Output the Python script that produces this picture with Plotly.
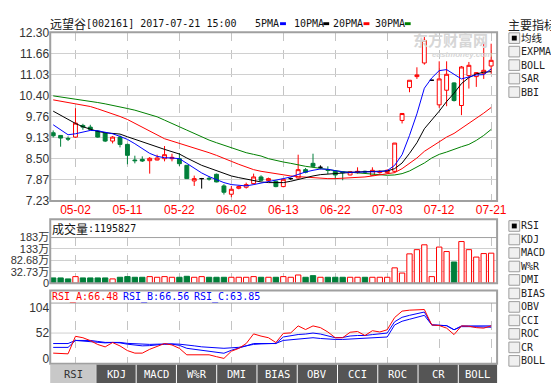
import plotly.graph_objects as go

# ---------------- data ----------------
dates = [
    "2017-04-26", "2017-04-27", "2017-04-28",
    "2017-05-02", "2017-05-03", "2017-05-04", "2017-05-05", "2017-05-08", "2017-05-09", "2017-05-10",
    "2017-05-11", "2017-05-12", "2017-05-15", "2017-05-16", "2017-05-17", "2017-05-18", "2017-05-19",
    "2017-05-22", "2017-05-23", "2017-05-24", "2017-05-25", "2017-05-26", "2017-05-31", "2017-06-01",
    "2017-06-02", "2017-06-05", "2017-06-06", "2017-06-07", "2017-06-08", "2017-06-09", "2017-06-12",
    "2017-06-13", "2017-06-14", "2017-06-15", "2017-06-16", "2017-06-19", "2017-06-20", "2017-06-21",
    "2017-06-22", "2017-06-23", "2017-06-26", "2017-06-27", "2017-06-28", "2017-06-29", "2017-06-30",
    "2017-07-03", "2017-07-04", "2017-07-05", "2017-07-06", "2017-07-07", "2017-07-10", "2017-07-11",
    "2017-07-12", "2017-07-13", "2017-07-14", "2017-07-17", "2017-07-18", "2017-07-19", "2017-07-20",
    "2017-07-21",
]
opens = [9.28, 9.20, 9.11, 9.15, 9.50, 9.45, 9.33, 9.27, 9.03, 9.15,
         8.93, 8.46, 8.48, 8.44, 8.46, 8.50, 8.50, 8.50, 8.30, 7.83,
         7.90, 7.91, 8.03, 7.68, 7.43, 7.61, 7.64, 7.75, 7.95, 7.84,
         7.82, 7.66, 7.90, 7.92, 8.17, 8.36, 8.24, 8.17, 8.12, 8.10,
         8.01, 8.08, 8.12, 8.00, 8.08, 8.08, 8.12, 9.65, 10.64, 10.97,
         11.38, 10.86, 10.12, 10.56, 10.78, 10.10, 11.00, 10.97, 11.07, 11.29]
highs = [9.35, 9.21, 9.17, 10.02, 9.55, 9.52, 9.36, 9.30, 9.18, 9.20,
         8.95, 8.59, 8.57, 8.55, 8.62, 8.88, 8.65, 8.67, 8.31, 7.99,
         7.92, 7.97, 8.05, 7.73, 7.68, 7.69, 7.78, 8.05, 8.00, 7.93,
         7.84, 7.90, 7.93, 8.62, 8.22, 8.65, 8.30, 8.27, 8.14, 8.12,
         8.13, 8.24, 8.14, 8.24, 8.15, 8.18, 8.97, 9.87, 10.86, 11.25,
         12.16, 10.86, 11.43, 11.43, 10.80, 11.29, 11.41, 11.10, 11.96, 11.96]
lows = [9.14, 8.86, 9.03, 9.13, 9.37, 9.35, 9.13, 9.00, 8.96, 8.84,
        8.33, 8.36, 8.40, 8.05, 8.45, 8.42, 8.42, 8.28, 7.89, 7.68,
        7.60, 7.84, 7.79, 7.42, 7.34, 7.58, 7.60, 7.72, 7.82, 7.80,
        7.64, 7.64, 7.86, 7.90, 8.06, 8.24, 8.18, 8.04, 7.88, 7.85,
        8.00, 8.05, 8.06, 7.98, 8.05, 8.05, 8.08, 9.56, 10.50, 10.90,
        11.33, 10.86, 10.03, 10.08, 10.22, 9.81, 10.61, 10.66, 10.90, 11.06]
closes = [9.19, 9.12, 9.09, 9.57, 9.45, 9.38, 9.15, 9.03, 9.15, 8.93,
          8.60, 8.44, 8.43, 8.51, 8.52, 8.62, 8.54, 8.35, 7.90, 7.90,
          7.90, 7.89, 7.80, 7.49, 7.58, 7.66, 7.72, 7.95, 7.85, 7.90,
          7.66, 7.88, 7.90, 8.17, 8.09, 8.27, 8.24, 8.15, 8.01, 8.08,
          8.11, 8.12, 8.10, 8.15, 8.12, 8.15, 8.97, 9.86, 10.86, 11.02,
          12.06, 10.86, 10.90, 11.04, 10.25, 11.26, 11.31, 11.09, 11.16, 11.46]
ma5 = [9.52, 9.38, 9.22, 9.25, 9.30, 9.35, 9.34, 9.30, 9.25, 9.17,
       9.08, 8.95, 8.80, 8.66, 8.57, 8.53, 8.52, 8.50, 8.36, 8.21,
       8.07, 7.96, 7.87, 7.78, 7.72, 7.69, 7.68, 7.72, 7.76, 7.82,
       7.84, 7.90, 7.95, 8.03, 8.10, 8.15, 8.19, 8.18, 8.13, 8.10,
       8.09, 8.09, 8.10, 8.11, 8.11, 8.14, 8.30, 8.62, 9.20, 9.85,
       10.62, 10.93, 11.15, 11.18, 11.03, 10.90, 10.96, 11.02, 11.03, 11.20]
ma10 = [9.93, 9.80, 9.67, 9.56, 9.46, 9.38, 9.32, 9.28, 9.26, 9.24,
        9.16, 9.08, 9.01, 8.93, 8.85, 8.78, 8.71, 8.64, 8.52, 8.40,
        8.30, 8.22, 8.14, 8.05, 7.98, 7.93, 7.88, 7.84, 7.80, 7.78,
        7.77, 7.78, 7.82, 7.88, 7.93, 7.98, 8.02, 8.04, 8.06, 8.08,
        8.09, 8.10, 8.11, 8.11, 8.12, 8.13, 8.20, 8.37, 8.66, 8.98,
        9.40, 9.65, 9.93, 10.22, 10.47, 10.76, 10.94, 11.05, 11.10, 11.12]
ma20 = [10.27, 10.23, 10.19, 10.15, 10.11, 10.07, 10.00, 9.93, 9.85, 9.77,
        9.68, 9.56, 9.44, 9.32, 9.20, 9.10, 9.03, 8.96, 8.90, 8.83,
        8.77, 8.68, 8.60, 8.52, 8.42, 8.33, 8.25, 8.17, 8.12, 8.08,
        8.05, 8.00, 7.98, 7.96, 7.94, 7.92, 7.91, 7.90, 7.90, 7.91,
        7.92, 7.93, 7.95, 7.98, 8.01, 8.03, 8.08, 8.20, 8.35, 8.52,
        8.72, 8.86, 9.01, 9.15, 9.26, 9.41, 9.56, 9.71, 9.87, 10.04]
ma30 = [10.39, 10.36, 10.33, 10.29, 10.26, 10.23, 10.19, 10.15, 10.11, 10.06,
        10.01, 9.96, 9.90, 9.83, 9.76, 9.66, 9.57, 9.46, 9.36, 9.26,
        9.15, 9.06, 8.98, 8.90, 8.83, 8.74, 8.68, 8.63, 8.58, 8.50,
        8.44, 8.40, 8.36, 8.31, 8.27, 8.24, 8.20, 8.18, 8.14, 8.11,
        8.09, 8.07, 8.05, 8.03, 8.01, 8.00, 8.01, 8.05, 8.13, 8.24,
        8.37, 8.52, 8.63, 8.70, 8.79, 8.86, 8.93, 9.05, 9.20, 9.38]
# volume in 万 shares
volumes = [20.8, 20.8, 16.9, 26.0, 20.8, 20.8, 20.8, 20.8, 16.9, 23.4,
           26.0, 23.4, 23.4, 26.0, 23.4, 26.0, 23.4, 23.4, 27.3, 23.4,
           26.0, 23.4, 23.4, 23.4, 23.4, 23.4, 23.4, 26.0, 23.4, 23.4,
           23.4, 26.0, 23.4, 32.5, 23.4, 29.9, 23.4, 23.4, 23.4, 23.4,
           23.4, 23.4, 23.4, 23.4, 23.4, 23.4, 61.0, 40.2, 116.8, 133.6,
           153.0, 26.0, 144.0, 126.0, 84.4, 166.0, 133.6, 104.0, 118.0, 119.58]
rsi_a = [11.2, 10.6, 9.8, 45.4, 42.5, 36.6, 28.8, 23.9, 32.7, 25.8,
         16.4, 11.2, 11.2, 19.0, 24.9, 30.7, 27.8, 20.9, 7.8, 7.8,
         7.8, 7.8, 4.0, 0.5, 15.1, 20.9, 30.7, 50.3, 45.8, 42.5,
         32.7, 51.3, 52.3, 66.5, 59.1, 66.5, 63.0, 54.2, 42.5, 42.5,
         53.6, 55.2, 47.0, 56.8, 54.2, 58.7, 83.6, 96.5, 98.5, 99.3,
         99.8, 68.5, 67.3, 62.0, 48.9, 66.5, 65.9, 63.0, 62.0, 66.48]
rsi_b = [22.9, 22.9, 22.9, 37.0, 36.0, 35.0, 33.0, 32.0, 33.0, 32.0,
         29.4, 27.0, 26.0, 26.5, 28.0, 29.4, 29.4, 27.0, 21.0, 19.0,
         17.0, 15.0, 13.0, 11.0, 17.0, 21.0, 26.0, 30.7, 31.0, 31.0,
         30.7, 44.0, 47.0, 49.0, 50.0, 52.0, 50.0, 46.0, 42.5, 43.0,
         46.0, 47.0, 47.0, 48.9, 50.0, 52.0, 75.0, 84.0, 88.0, 91.0,
         94.7, 68.5, 68.5, 67.0, 58.7, 66.5, 66.5, 66.5, 66.0, 66.56]
rsi_c = [30.7, 30.7, 30.7, 37.0, 37.6, 37.0, 35.0, 33.0, 33.0, 33.0,
         31.0, 30.0, 29.4, 29.0, 29.4, 30.0, 30.0, 29.4, 27.0, 26.0,
         24.0, 22.5, 21.5, 21.0, 22.0, 23.0, 26.0, 29.0, 30.0, 30.7,
         31.0, 37.0, 38.5, 39.0, 40.5, 42.5, 41.0, 39.5, 39.0, 39.0,
         40.0, 41.0, 42.5, 43.0, 43.8, 44.0, 68.5, 76.0, 80.0, 84.0,
         88.0, 68.5, 68.5, 67.0, 58.7, 65.0, 65.0, 65.0, 64.0, 63.85]

tick_dates = ["2017-05-02", "2017-05-11", "2017-05-22", "2017-06-02", "2017-06-13",
              "2017-06-22", "2017-07-03", "2017-07-12", "2017-07-21"]
tick_labels = [d[5:] for d in tick_dates]
price_ticks = [12.30, 11.66, 11.03, 10.40, 9.76, 9.13, 8.50, 7.87, 7.23]
vol_tick_labels = ["183万", "133万", "82.68万", "32.73万", "0"]
rsi_ticks = [104, 52, 0]

title_name = "远望谷"
title_rest = "[002161] 2017-07-21 15:00"
vol_header = "成交量"
vol_header_val = ":1195827"
rsi_header = [("RSI_A:66.48", "#ff0000"), ("RSI_B:66.56", "#0000ff"), ("RSI_C:63.85", "#0000ff")]
ma_names = ["5PMA", "10PMA", "20PMA", "30PMA"]
main_opts = ["均线", "EXPMA", "BOLL", "SAR", "BBI"]
sub_opts = ["RSI", "KDJ", "MACD", "W%R", "DMI", "BIAS", "OBV", "CCI", "ROC", "CR", "BOLL"]
tabs = ["RSI", "KDJ", "MACD", "W%R", "DMI", "BIAS", "OBV", "CCI", "ROC", "CR", "BOLL"]

# ---------------- styling / layout helpers ----------------
W, H = 559, 383
L, R = 43, 498
RED = "#ff0000"
GREEN = "#007f3a"
BLUE = "#0000ff"
MAGREEN = "#008000"
FRAME = "#a0a0a0"
GRID = "#d0d0d0"
MONO = "DejaVu Sans Mono"
CJK = "Noto Sans CJK SC"
SANS = "Liberation Sans"


def fx(p):
    return p / W


def fy(p):
    return 1 - p / H


def pick(arr, idx):
    return [arr[i] for i in idx]


n = len(dates)
body_idx = [i for i in range(n) if opens[i] != closes[i]]
flat_idx = [i for i in range(n) if opens[i] == closes[i]]
vol_up = [i for i in range(n) if closes[i] >= opens[i]]
vol_dn = [i for i in range(n) if closes[i] < opens[i]]

fig = go.Figure()
fig.add_trace(go.Candlestick(
    x=pick(dates, body_idx), open=pick(opens, body_idx), high=pick(highs, body_idx),
    low=pick(lows, body_idx), close=pick(closes, body_idx),
    increasing=dict(line=dict(color=RED, width=1), fillcolor="white"),
    decreasing=dict(line=dict(color=GREEN, width=1), fillcolor=GREEN),
    whiskerwidth=0, hoverinfo="skip", xaxis="x", yaxis="y"))
fig.add_trace(go.Candlestick(
    x=pick(dates, flat_idx), open=pick(opens, flat_idx), high=pick(highs, flat_idx),
    low=pick(lows, flat_idx), close=pick(closes, flat_idx),
    increasing=dict(line=dict(color="black", width=1), fillcolor="black"),
    decreasing=dict(line=dict(color="black", width=1), fillcolor="black"),
    whiskerwidth=0, hoverinfo="skip", xaxis="x", yaxis="y"))
for vals, col in [(ma30, MAGREEN), (ma20, RED), (ma10, "black"), (ma5, BLUE)]:
    fig.add_trace(go.Scatter(x=dates, y=vals, mode="lines", line=dict(color=col, width=1),
                             hoverinfo="skip", xaxis="x", yaxis="y"))

fig.add_trace(go.Bar(x=pick(dates, vol_up), y=pick(volumes, vol_up), width=0.72,
                     marker=dict(color="white", line=dict(color=RED, width=1)),
                     hoverinfo="skip", xaxis="x2", yaxis="y2"))
fig.add_trace(go.Bar(x=pick(dates, vol_dn), y=pick(volumes, vol_dn), width=0.72,
                     marker=dict(color=GREEN, line=dict(color=GREEN, width=1)),
                     hoverinfo="skip", xaxis="x2", yaxis="y2"))

for vals, col in [(rsi_c, BLUE), (rsi_b, BLUE), (rsi_a, RED)]:
    fig.add_trace(go.Scatter(x=dates, y=vals, mode="lines", line=dict(color=col, width=1),
                             hoverinfo="skip", xaxis="x3", yaxis="y3"))

xcommon = dict(type="category", categoryorder="array", categoryarray=dates,
               range=[-0.4, 59.8], tickmode="array", tickvals=tick_dates,
               showgrid=True, gridcolor="#c4c4c4", griddash="dash", gridwidth=1,
               zeroline=False, showline=False, ticks="", fixedrange=True)
ycommon = dict(zeroline=False, showline=False, ticks="", fixedrange=True,
               gridcolor=GRID, gridwidth=1)
yfont = dict(family=SANS + ", " + CJK, size=12, color="#333333")

fig.update_layout(
    width=W, height=H, margin=dict(l=0, r=0, t=0, b=0),
    paper_bgcolor="white", plot_bgcolor="white", showlegend=False,
    boxgap=0.25, barmode="overlay",
    xaxis=dict(**xcommon, domain=[fx(L), fx(R)], anchor="y", ticktext=tick_labels,
               tickfont=dict(family=SANS, size=12, color=RED),
               rangeslider=dict(visible=False)),
    xaxis2=dict(**xcommon, domain=[fx(L), fx(R)], anchor="y2", showticklabels=False),
    xaxis3=dict(**xcommon, domain=[fx(L), fx(R)], anchor="y3", showticklabels=False),
    yaxis=dict(**ycommon, domain=[fy(193), fy(18)], range=[7.228, 12.302],
               tickmode="array", tickvals=price_ticks, tickfont=yfont,
               ticktext=["%.2f" % v for v in price_ticks], showgrid=True),
    yaxis2=dict(**ycommon, domain=[fy(278.3), fy(230.7)], range=[0, 183.05],
                tickmode="array", tickvals=[183, 137.25, 91.5, 45.75, 0],
                tickfont=dict(family=SANS + ", " + CJK, size=11, color="#333333"),
                ticktext=vol_tick_labels, showgrid=True),
    yaxis3=dict(**ycommon, domain=[fy(361.7), fy(299)], range=[-9.8, 112.9],
                tickmode="array", tickvals=rsi_ticks, tickfont=yfont,
                ticktext=[str(v) for v in rsi_ticks], showgrid=False),
)

shapes = []
annotations = []


def rect(x0, y0, x1, y1, line=None, fill=None, width=1, layer="above"):
    shapes.append(dict(type="rect", xref="paper", yref="paper",
                       x0=fx(x0), x1=fx(x1), y0=fy(y1), y1=fy(y0),
                       line=dict(color=line if line else "rgba(0,0,0,0)", width=width if line else 0),
                       fillcolor=fill if fill else "rgba(0,0,0,0)", layer=layer))


def hline(x0, x1, y, color=FRAME, width=1):
    shapes.append(dict(type="line", xref="paper", yref="paper",
                       x0=fx(x0), x1=fx(x1), y0=fy(y), y1=fy(y),
                       line=dict(color=color, width=width), layer="above"))


def txt(s, x, y, size=10, color="#222222", family=MONO, xanchor="left", bold=False):
    if bold:
        s = "<b>" + s + "</b>"
    annotations.append(dict(text=s, x=fx(x), y=fy(y), xref="paper", yref="paper",
                            xanchor=xanchor, yanchor="middle", showarrow=False,
                            font=dict(family=family, size=size, color=color),
                            borderpad=0, borderwidth=0))


# RSI 52 gridline
shapes.append(dict(type="line", xref="paper", yref="y3", x0=fx(L), x1=fx(R), y0=52, y1=52,
                   line=dict(color=GRID, width=1), layer="below"))

# panel frames
rect(L, 18, R, 193, line=FRAME, width=2)
rect(L, 212, R, 278.3, line=FRAME, width=2)
hline(L, R, 231, FRAME, 1)
rect(L, 286, R, 362, line=FRAME, width=2)
hline(L, R, 299, FRAME, 1)

# title + MA legend
txt(title_name, 43, 9, size=12, family=CJK, color="#111111")
txt(title_rest, 79, 9, size=10, color="#111111")
legend_pos = [(252, 277), (291, 321), (331, 362), (374, 404)]
legend_cols = [BLUE, "black", RED, MAGREEN]
for name, (tx, dx), col in zip(ma_names, legend_pos, legend_cols):
    txt(name, tx, 9, size=10, color="#111111")
    rect(dx, 7.5, dx + 6, 10.5, fill=col)

# watermark
txt("东方财富网", 451, 25, size=15, family=CJK, color="#d6d6d6", xanchor="center", bold=True)
txt("<i>eastmoney.com</i>", 462, 40.5, size=8, family=SANS, color="#d6d6d6", xanchor="center", bold=True)

# volume / RSI headers
txt(vol_header, 45, 221.5, size=12, family=CJK, color="#111111")
txt(vol_header_val, 81, 221.5, size=10, color="#111111")
hx = 45
for s, col in rsi_header:
    txt(s, hx, 292.5, size=10, color=col)
    hx += 72

# right option panels
txt("主要指标", 509, 10, size=12, family=CJK, color="#222222")


def checkbox(yc, label, checked, cjk=False):
    rect(510, yc - 5.5, 521, yc + 5.5, line="#9c9c9c", fill="#f0f0f0", width=1)
    if checked:
        rect(513, yc - 2.5, 518, yc + 2.5, fill="black")
    if cjk:
        txt(label, 522, yc - 0.5, size=10.5, family=CJK, color="#222222")
    else:
        txt(label, 522, yc, size=10, family=MONO, color="#222222")


for k, lab in enumerate(main_opts):
    checkbox(24 + 14 * k, lab, k == 0, cjk=(k == 0))
for k, lab in enumerate(sub_opts):
    checkbox(219 + 14 * k, lab, k == 0)

# bottom tabs
for k, lab in enumerate(tabs):
    if k == 0:
        x0, x1 = 43, 89.5
        fill, col = "#c8c8c8", "#333333"
    else:
        x0 = 90 + 41 * (k - 1)
        x1 = min(x0 + 40, 498)
        fill, col = "#555555", "white"
    rect(x0, 363, x1, 383, fill=fill)
    txt(lab, (x0 + x1) / 2, 373, size=10.5, color=col, xanchor="center")

fig.update_layout(shapes=shapes, annotations=annotations)
fig.write_html("out.html", config={"displayModeBar": False})
